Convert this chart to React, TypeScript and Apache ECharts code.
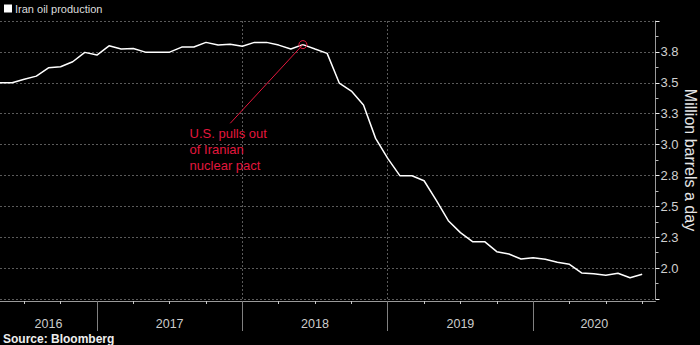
import React, { useEffect, useRef } from "react";
import * as echarts from "echarts";

// ---------- data ----------
const seriesName = "Iran oil production";
const months = [
  "2016-04", "2016-05", "2016-06", "2016-07", "2016-08", "2016-09", "2016-10", "2016-11", "2016-12",
  "2017-01", "2017-02", "2017-03", "2017-04", "2017-05", "2017-06", "2017-07", "2017-08", "2017-09", "2017-10", "2017-11", "2017-12",
  "2018-01", "2018-02", "2018-03", "2018-04", "2018-05", "2018-06", "2018-07", "2018-08", "2018-09", "2018-10", "2018-11", "2018-12",
  "2019-01", "2019-02", "2019-03", "2019-04", "2019-05", "2019-06", "2019-07", "2019-08", "2019-09", "2019-10", "2019-11", "2019-12",
  "2020-01", "2020-02", "2020-03", "2020-04", "2020-05", "2020-06", "2020-07", "2020-08", "2020-09",
];
const production = [
  3.5, 3.5, 3.528, 3.554, 3.621, 3.63, 3.67, 3.746, 3.724,
  3.799, 3.773, 3.778, 3.748, 3.748, 3.748, 3.789, 3.789, 3.827, 3.805, 3.811, 3.795,
  3.827, 3.827, 3.805, 3.773, 3.809, 3.773, 3.738, 3.498, 3.433, 3.32, 3.05, 2.888,
  2.748, 2.748, 2.707, 2.551, 2.384, 2.287, 2.214, 2.214, 2.133, 2.114, 2.074, 2.084,
  2.072, 2.047, 2.031, 1.961, 1.955, 1.942, 1.958, 1.922, 1.95,
];
// x axis is measured in months since 1 Jan 2016; a month's value sits at its month end
const xMin = 4;
const xMax = 58.1;
const quarterTicks = [6, 9, 12, 15, 18, 21, 24, 27, 30, 33, 36, 39, 42, 45, 48, 51, 54, 57];
const yearBoundaries = [12, 24, 36, 48];
const yearLabels = ["2016", "2017", "2018", "2019", "2020"];
const yearLabelPositions = [8, 18, 30, 42, 53.05];
const yMin = 1.75;
const yMax = 4.0;
const yInterval = 0.25;
const yAxisName = "Million barrels a day";
const sourceText = "Source: Bloomberg";
const annotationText = "U.S. pulls out\nof Iranian\nnuclear pact";
const annotationPoint = [29, 3.809];
const annotationLineEnd = [23.0, 3.172];
const annotationTextAnchor = [19.69, 3.15];

const monthPosition = (m: string) => {
  const [y, mo] = m.split("-").map(Number);
  return (y - 2016) * 12 + mo;
};

const FONT = "Liberation Sans";
const RED = "#e3173d";
const GRID_GRAY = "#5a5a5a";

export default function App() {
  const ref = useRef<HTMLDivElement>(null);
  useEffect(() => {
    document.body.style.margin = "0";
    document.body.style.background = "#000";
    const chart = echarts.init(ref.current!, null, { renderer: "svg" });
    const data = months.map((m, i) => [monthPosition(m), production[i]]);
    chart.setOption({
      animation: false,
      backgroundColor: "#000",
      textStyle: { fontFamily: FONT },
      title: {
        text: sourceText,
        left: 3,
        top: 332,
        padding: 0,
        textStyle: { color: "#eeeeee", fontSize: 12, fontWeight: "bold", fontFamily: FONT, lineHeight: 13 },
      },
      legend: {
        left: 4,
        top: 3,
        padding: 0,
        icon: "rect",
        itemWidth: 8,
        itemHeight: 8,
        itemGap: 10,
        textStyle: { color: "#dddddd", fontSize: 11, fontFamily: FONT, padding: [0, 0, 0, -2] },
        data: [{ name: seriesName, itemStyle: { color: "#ffffff" } }],
      },
      graphic: [
        {
          type: "text",
          x: 690,
          y: 160,
          rotation: -Math.PI / 2,
          silent: true,
          style: {
            text: yAxisName,
            fill: "#e6e6e6",
            font: `16px "${FONT}"`,
            align: "center",
            verticalAlign: "middle",
          },
        },
      ],
      grid: { left: 0, right: 44.5, top: 21, bottom: 46, containLabel: false, outerBoundsMode: "none" },
      xAxis: [
        {
          type: "value",
          min: xMin,
          max: xMax,
          position: "bottom",
          offset: 2,
          axisLine: { show: true, lineStyle: { color: "#9a9a9a", width: 1 } },
          axisTick: { show: true, customValues: quarterTicks, length: 3, lineStyle: { color: "#c8c8c8" } },
          axisLabel: {
            show: true,
            customValues: yearLabelPositions,
            margin: 16,
            color: "#cccccc",
            fontSize: 12.5,
            fontFamily: FONT,
            formatter: (v: number) => {
              let best = 0;
              yearLabelPositions.forEach((p, i) => {
                if (Math.abs(p - v) < Math.abs(yearLabelPositions[best] - v)) best = i;
              });
              return yearLabels[best];
            },
          },
          splitLine: { show: false },
        },
        {
          type: "value",
          min: xMin,
          max: xMax,
          position: "bottom",
          offset: 2,
          axisLine: { show: false },
          axisTick: { show: true, customValues: yearBoundaries, length: 30, lineStyle: { color: "#808080" } },
          axisLabel: { show: false },
          splitLine: {
            show: true,
            showMinLine: false,
            showMaxLine: false,
            lineStyle: { color: GRID_GRAY, type: [2, 2], width: 1 },
          },
        },
      ],
      yAxis: {
        type: "value",
        position: "right",
        min: yMin,
        max: yMax,
        interval: yInterval,
        axisLine: { show: true, lineStyle: { color: "#9a9a9a", width: 1 } },
        axisTick: { show: true, inside: false, length: 4, lineStyle: { color: "#eeeeee" } },
        minorTick: { show: true, splitNumber: 2, length: 3, lineStyle: { color: "#bbbbbb" } },
        axisLabel: {
          color: "#d0d0d0",
          fontSize: 13,
          fontFamily: FONT,
          margin: 5,
          formatter: (v: number) => (v >= yMax - 1e-9 || v <= yMin + 1e-9 ? "" : v.toFixed(1)),
        },
        splitLine: { show: true, lineStyle: { color: GRID_GRAY, type: [2, 2], width: 1 } },
      },
      series: [
        {
          name: seriesName,
          type: "line",
          xAxisIndex: 0,
          yAxisIndex: 0,
          data,
          showSymbol: false,
          symbol: "none",
          lineStyle: { color: "#ffffff", width: 1.5 },
          itemStyle: { color: "#ffffff" },
          markLine: {
            silent: true,
            symbol: ["none", "none"],
            label: { show: false },
            lineStyle: { color: RED, width: 1, type: "solid" },
            data: [[{ coord: annotationPoint }, { coord: annotationLineEnd }]],
          },
          markPoint: {
            silent: true,
            data: [
              {
                coord: annotationPoint,
                symbol: "circle",
                symbolSize: 8,
                itemStyle: { color: "rgba(0,0,0,0)", borderColor: RED, borderWidth: 1 },
                label: { show: false },
              },
              {
                coord: annotationTextAnchor,
                symbol: "rect",
                symbolSize: 1,
                itemStyle: { color: "rgba(0,0,0,0)" },
                label: {
                  show: true,
                  position: [0, 0],
                  align: "left",
                  verticalAlign: "top",
                  formatter: annotationText,
                  color: RED,
                  fontSize: 13,
                  lineHeight: 16,
                  fontFamily: FONT,
                },
              },
            ],
          },
        },
      ],
    });
    return () => chart.dispose();
  }, []);
  return <div ref={ref} style={{ width: 700, height: 345, background: "#000" }} />;
}
